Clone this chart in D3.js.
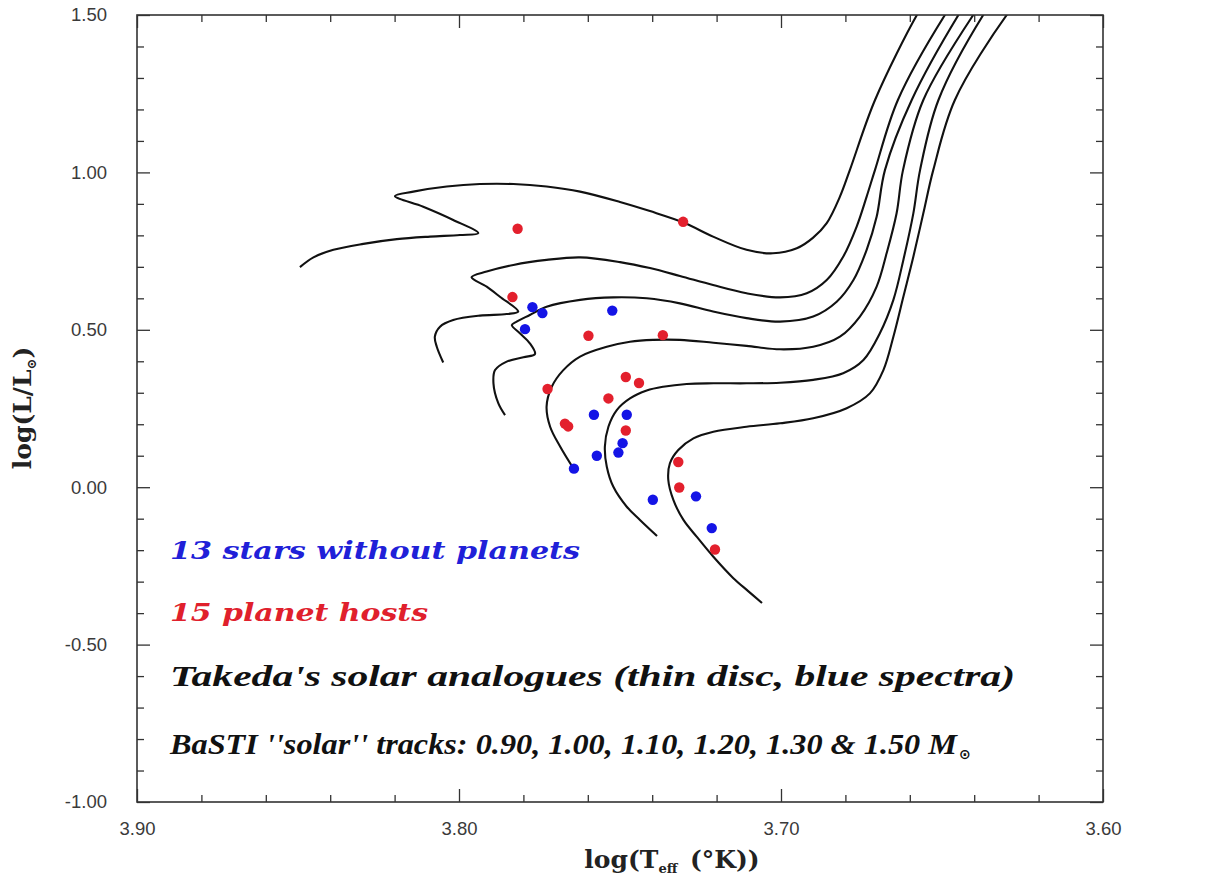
<!DOCTYPE html>
<html>
<head>
<meta charset="utf-8">
<script src="https://cdn.jsdelivr.net/npm/d3@7"></script>
<style>
  html, body { margin: 0; padding: 0; background: #fff; }
  svg { display: block; }
</style>
</head>
<body>
<svg id="chart" width="1215" height="881"></svg>
<script>
// ---- Axis ticks -----------------------------------------------------------
const teffMajor = [3.90, 3.80, 3.70, 3.60];
const teffMinor = [3.88, 3.86, 3.84, 3.82, 3.78, 3.76, 3.74, 3.72, 3.68, 3.66, 3.64, 3.62];
const lumMajor = [1.50, 1.00, 0.50, 0.00, -0.50, -1.00];
const lumMinor = [1.4, 1.3, 1.2, 1.1, 0.9, 0.8, 0.7, 0.6, 0.4, 0.3, 0.2, 0.1,
                  -0.1, -0.2, -0.3, -0.4, -0.6, -0.7, -0.8, -0.9];

// ---- BaSTI "solar" evolutionary tracks: [log Teff, log L/Lsun] -------------
const trackMasses = ["0.90", "1.00", "1.10", "1.20", "1.30", "1.50"];

const track090 = [
  [3.7059, -0.368], [3.7102, -0.330], [3.7148, -0.289], [3.7210, -0.221], [3.7262, -0.157],
  [3.7303, -0.104], [3.7334, -0.041], [3.7350, 0.023], [3.7345, 0.076], [3.7319, 0.118],
  [3.7272, 0.155], [3.7210, 0.176], [3.7107, 0.192], [3.7003, 0.203], [3.6900, 0.219],
  [3.6796, 0.251], [3.6724, 0.298], [3.6682, 0.372], [3.6651, 0.478], [3.6620, 0.605],
  [3.6589, 0.732], [3.6558, 0.870], [3.6527, 1.008], [3.6460, 1.230], [3.6299, 1.500],
  [3.6250, 1.560]
];
const track100 = [
  [3.7385, -0.155], [3.7438, -0.104], [3.7479, -0.062], [3.7521, 0.002], [3.7541, 0.065],
  [3.7547, 0.129], [3.7536, 0.192], [3.7510, 0.245], [3.7469, 0.282], [3.7417, 0.307],
  [3.7366, 0.319], [3.7293, 0.328], [3.7210, 0.330], [3.7107, 0.330], [3.7003, 0.332],
  [3.6900, 0.341], [3.6807, 0.362], [3.6744, 0.404], [3.6693, 0.489], [3.6651, 0.595],
  [3.6620, 0.722], [3.6589, 0.870], [3.6568, 1.008], [3.6511, 1.230], [3.6372, 1.500],
  [3.6330, 1.560]
];
const track110 = [
  [3.7645, 0.060], [3.7686, 0.129], [3.7717, 0.192], [3.7728, 0.256], [3.7712, 0.319],
  [3.7676, 0.372], [3.7624, 0.415], [3.7541, 0.446], [3.7469, 0.462], [3.7397, 0.468],
  [3.7314, 0.468], [3.7210, 0.459], [3.7107, 0.449], [3.7003, 0.438], [3.6900, 0.446],
  [3.6817, 0.478], [3.6755, 0.542], [3.6703, 0.637], [3.6672, 0.743], [3.6641, 0.870],
  [3.6621, 1.008], [3.6558, 1.230], [3.6403, 1.500], [3.6360, 1.560]
];
const track120 = [
  [3.7857, 0.229], [3.7878, 0.267], [3.7893, 0.330], [3.7888, 0.372], [3.7852, 0.399],
  [3.7800, 0.413], [3.7764, 0.423], [3.7780, 0.457], [3.7811, 0.489], [3.7836, 0.515],
  [3.7821, 0.526], [3.7780, 0.547], [3.7728, 0.573], [3.7624, 0.595], [3.7521, 0.603],
  [3.7417, 0.600], [3.7314, 0.584], [3.7211, 0.558], [3.7107, 0.537], [3.7003, 0.526],
  [3.6900, 0.542], [3.6827, 0.589], [3.6775, 0.658], [3.6734, 0.754], [3.6703, 0.859],
  [3.6677, 1.008], [3.6594, 1.230], [3.6449, 1.500], [3.6410, 1.560]
];
const track130 = [
  [3.8049, 0.396], [3.8069, 0.446], [3.8075, 0.478], [3.8059, 0.510], [3.8018, 0.531],
  [3.7935, 0.545], [3.7852, 0.550], [3.7816, 0.558], [3.7873, 0.605], [3.7914, 0.637],
  [3.7961, 0.667], [3.7914, 0.685], [3.7831, 0.706], [3.7728, 0.722], [3.7624, 0.730],
  [3.7500, 0.715], [3.7407, 0.696], [3.7314, 0.671], [3.7211, 0.642], [3.7107, 0.616],
  [3.7003, 0.603], [3.6920, 0.616], [3.6858, 0.658], [3.6807, 0.732], [3.6765, 0.828],
  [3.6734, 0.923], [3.6708, 1.008], [3.6637, 1.230], [3.6491, 1.500], [3.6450, 1.560]
];
const track150 = [
  [3.8494, 0.699], [3.8452, 0.730], [3.8390, 0.754], [3.8297, 0.773], [3.8193, 0.788],
  [3.8090, 0.796], [3.7997, 0.801], [3.7940, 0.807], [3.8018, 0.849], [3.8111, 0.891],
  [3.8199, 0.925], [3.8142, 0.939], [3.8038, 0.955], [3.7935, 0.963], [3.7831, 0.963],
  [3.7728, 0.955], [3.7624, 0.939], [3.7500, 0.906], [3.7407, 0.877], [3.7301, 0.840],
  [3.7211, 0.796], [3.7107, 0.754], [3.7025, 0.743], [3.6951, 0.759], [3.6901, 0.792],
  [3.6858, 0.839], [3.6817, 0.923], [3.6786, 1.008], [3.6708, 1.230], [3.6578, 1.500],
  [3.6540, 1.560]
];
const tracks = [track090, track100, track110, track120, track130, track150];

// ---- Takeda's solar analogues ----------------------------------------------
// 15 planet hosts
const hostTeff = [3.7818, 3.7304, 3.7834, 3.7598, 3.7367, 3.7482, 3.7441, 3.7725,
                  3.7536, 3.7671, 3.7661, 3.7482, 3.7319, 3.7316, 3.7205];
const hostLum  = [0.821, 0.843, 0.604, 0.481, 0.483, 0.350, 0.331, 0.312,
                  0.282, 0.202, 0.193, 0.180, 0.080, -0.001, -0.198];
// 13 stars without planets
const noPlanetTeff = [3.7772, 3.7741, 3.7524, 3.7795, 3.7581, 3.7479, 3.7492,
                      3.7505, 3.7572, 3.7643, 3.7398, 3.7264, 3.7215];
const noPlanetLum  = [0.572, 0.553, 0.561, 0.502, 0.230, 0.230, 0.140,
                      0.110, 0.100, 0.059, -0.040, -0.029, -0.130];

// ---- Layout -------------------------------------------------------------------
const svg = d3.select("#chart");
const plot = { left: 137, right: 1103, top: 15, bottom: 802 };

const x = d3.scaleLinear().domain([3.90, 3.60]).range([plot.left, plot.right]);
const y = d3.scaleLinear().domain([-1.00, 1.50]).range([plot.bottom, plot.top]);

const axisColor = "#333";
const majorLen = 13, minorLen = 7;

svg.append("defs").append("clipPath").attr("id", "plot-clip")
  .append("rect")
  .attr("x", plot.left).attr("y", plot.top)
  .attr("width", plot.right - plot.left).attr("height", plot.bottom - plot.top);

// Tracks
const line = d3.line()
  .x(d => x(d[0]))
  .y(d => y(d[1]))
  .curve(d3.curveCatmullRom.alpha(0.5));

svg.append("g").attr("clip-path", "url(#plot-clip)")
  .selectAll("path.track")
  .data(tracks)
  .join("path")
  .attr("class", "track")
  .attr("d", line)
  .attr("fill", "none")
  .attr("stroke", "#111")
  .attr("stroke-width", 2.1)
  .attr("stroke-linejoin", "round");

// Stars
const dotR = 5.2;
svg.append("g").selectAll("circle.host")
  .data(d3.zip(hostTeff, hostLum))
  .join("circle")
  .attr("class", "host")
  .attr("cx", d => x(d[0])).attr("cy", d => y(d[1]))
  .attr("r", dotR).attr("fill", "#e3202d");

svg.append("g").selectAll("circle.noplanet")
  .data(d3.zip(noPlanetTeff, noPlanetLum))
  .join("circle")
  .attr("class", "noplanet")
  .attr("cx", d => x(d[0])).attr("cy", d => y(d[1]))
  .attr("r", dotR).attr("fill", "#1414e6");

// Axes: ticks point inward on all four sides
function styleAxis(g) {
  g.select(".domain").remove();
  g.selectAll(".tick line").attr("stroke", axisColor).attr("stroke-width", 1.3);
  g.selectAll(".tick text")
    .attr("fill", "#3a3a3a")
    .style("font-family", "'Liberation Sans', Arial, sans-serif")
    .style("font-size", "18.5px");
}

const fmt = d3.format(".2f");
const fmtY = v => (v < 0 ? "-" : "") + fmt(Math.abs(v));

// bottom
svg.append("g").attr("transform", `translate(0,${plot.bottom})`)
  .call(d3.axisBottom(x).tickValues(teffMajor).tickSize(-majorLen).tickPadding(20).tickFormat(fmt))
  .call(styleAxis);
svg.append("g").attr("transform", `translate(0,${plot.bottom})`)
  .call(d3.axisBottom(x).tickValues(teffMinor).tickSize(-minorLen).tickFormat(""))
  .call(styleAxis);
// top
svg.append("g").attr("transform", `translate(0,${plot.top})`)
  .call(d3.axisTop(x).tickValues(teffMajor).tickSize(-majorLen).tickFormat(""))
  .call(styleAxis);
svg.append("g").attr("transform", `translate(0,${plot.top})`)
  .call(d3.axisTop(x).tickValues(teffMinor).tickSize(-minorLen).tickFormat(""))
  .call(styleAxis);
// left
svg.append("g").attr("transform", `translate(${plot.left},0)`)
  .call(d3.axisLeft(y).tickValues(lumMajor).tickSize(-majorLen).tickPadding(30).tickFormat(fmtY))
  .call(styleAxis);
svg.append("g").attr("transform", `translate(${plot.left},0)`)
  .call(d3.axisLeft(y).tickValues(lumMinor).tickSize(-minorLen).tickFormat(""))
  .call(styleAxis);
// right
svg.append("g").attr("transform", `translate(${plot.right},0)`)
  .call(d3.axisRight(y).tickValues(lumMajor).tickSize(-majorLen).tickFormat(""))
  .call(styleAxis);
svg.append("g").attr("transform", `translate(${plot.right},0)`)
  .call(d3.axisRight(y).tickValues(lumMinor).tickSize(-minorLen).tickFormat(""))
  .call(styleAxis);

// frame
svg.append("rect")
  .attr("x", plot.left).attr("y", plot.top)
  .attr("width", plot.right - plot.left).attr("height", plot.bottom - plot.top)
  .attr("fill", "none").attr("stroke", axisColor).attr("stroke-width", 1.6);

// Axis titles
const titleFont = "'DejaVu Serif', serif";
const xt = svg.append("text")
  .attr("x", 672).attr("y", 868)
  .attr("text-anchor", "middle")
  .style("font-family", titleFont).style("font-weight", "bold").style("font-size", "25px")
  .attr("fill", "#222");
xt.append("tspan").text("log(T");
xt.append("tspan").attr("dy", 5).style("font-size", "13px").text("eff");
xt.append("tspan").attr("dy", -5).text("\u2002(\u00b0K))");

const yt = svg.append("text")
  .attr("transform", "translate(31,408) rotate(-90)")
  .attr("text-anchor", "middle")
  .style("font-family", titleFont).style("font-weight", "bold").style("font-size", "25px")
  .attr("fill", "#222");
yt.append("tspan").text("log(L/L");
yt.append("tspan").attr("dy", 5).style("font-size", "13px").text("\u2299");
yt.append("tspan").attr("dy", -5).text(")");

// Annotations
const annoX = 170;
const wideFont = "'DejaVu Serif', serif";
const condFont = "'Liberation Serif', serif";

function anno(text, yBase, right, color, family, size) {
  return svg.append("text")
    .attr("x", annoX).attr("y", yBase)
    .attr("textLength", right - annoX)
    .attr("lengthAdjust", "spacingAndGlyphs")
    .style("font-family", family).style("font-weight", "bold")
    .style("font-style", "italic").style("font-size", size + "px")
    .attr("fill", color)
    .text(text);
}

anno("13 stars without planets", 559, 580, "#2020d8", wideFont, 24);
anno("15 planet hosts", 621, 428, "#e0202c", wideFont, 24);
anno("Takeda's solar analogues (thin disc, blue spectra)", 686, 1015, "#111", condFont, 29);
anno("BaSTI ''solar'' tracks: 0.90, 1.00, 1.10, 1.20, 1.30 & 1.50 M", 754, 957, "#111", condFont, 29);
svg.append("text")
  .attr("x", 959).attr("y", 759)
  .style("font-family", "'DejaVu Sans', sans-serif").style("font-weight", "bold")
  .style("font-size", "14px").attr("fill", "#111")
  .text("\u2299");
</script>
</body>
</html>
